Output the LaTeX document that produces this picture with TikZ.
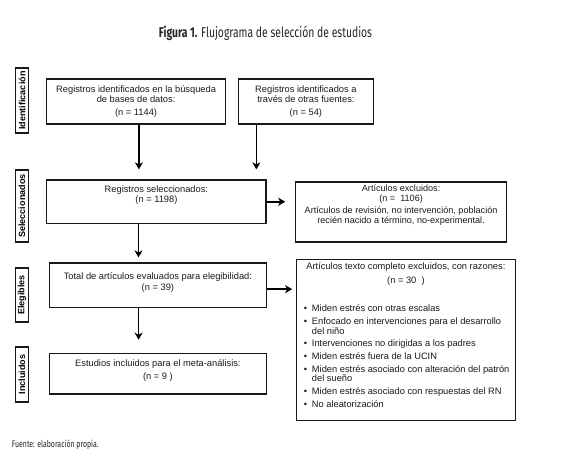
\documentclass[tikz,border=0pt]{standalone}
\usepackage{fontspec}
\setmainfont{Liberation Sans}
\newfontfamily\sidefont{Liberation Sans}
\newfontfamily\titlefont{Fira Sans}[FakeStretch=0.73]
\usetikzlibrary{arrows.meta}
\begin{document}
\begin{tikzpicture}[x=1pt,y=-1pt,
 box/.style={draw=black!90, line width=1.2pt, inner sep=0pt},
 txt/.style={font=\fontsize{9.3}{10.5}\selectfont, align=center, inner sep=0pt, text=black!90},
 smalltxt/.style={font=\fontsize{9.1}{10}\selectfont, align=center, inner sep=0pt, text=black!90},
 listtxt/.style={font=\fontsize{9.3}{9.5}\selectfont, align=left, inner sep=0pt, text=black!90},
 side/.style={draw=black!90, line width=1.3pt, rotate=90, font=\sidefont\fontsize{9}{11}\selectfont\bfseries, inner sep=0pt, minimum height=12.5pt},
 arr/.style={line width=1.7pt, draw=black, -{Stealth[length=7pt,width=8pt,inset=2pt]}}
]
\path[use as bounding box] (0,0) rectangle (578,459);

% title and source
\node[font=\titlefont\fontsize{14.2}{16}\selectfont, text=black!85, inner sep=0pt] (title) at (265.5,33) {{\bfseries Figura 1.} Flujograma de selección de estudios};
\node[font=\titlefont\fontsize{9.5}{10}\selectfont, text=black!85, inner sep=0pt, anchor=west] (src) at (11.8,445) {Fuente: elaboración propia.};

% side labels
\node[side, minimum width=65pt] (l1) at (22,100.5) {Identificación};
\node[side, minimum width=72pt] (l2) at (22,206) {Seleccionados};
\node[side, minimum width=54pt] (l3) at (22,295) {Elegibles};
\node[side, minimum width=55pt] (l4) at (22,374.5) {Incluidos};

% boxes
\node[box, minimum width=178.6pt, minimum height=45pt] (a) at (136.1,101.5) {};
\node[box, minimum width=135.5pt, minimum height=45pt] (b) at (305.9,101.5) {};
\node[box, minimum width=219.1pt, minimum height=43.5pt] (c) at (156.4,201.75) {};
\node[box, minimum width=210.5pt, minimum height=60pt] (e1) at (401.1,212) {};
\node[box, minimum width=216.9pt, minimum height=44.3pt] (d) at (157.9,285.15) {};
\node[box, minimum width=216.9pt, minimum height=40.7pt] (e) at (157.9,373.65) {};
\node[box, minimum width=219.1pt, minimum height=161.4pt] (e2) at (405.9,340) {};

% texts
\node[txt] (ta) at (a.center) {Registros identificados en la búsqueda\\de bases de datos:\\[2pt](n = 1144)};
\node[txt] (tb) at (b.center) {Registros identificados a\\través de otras fuentes:\\[2pt](n = 54)};
\node[txt] (tc) at ([yshift=6.75pt]c.center) {Registros seleccionados:\\(n = 1198)};
\node[smalltxt, anchor=north] (te1) at ([yshift=-3pt]e1.north) {Artículos excluidos:\\(n =\ \ 1106)\\[2.5pt]Artículos de revisión, no intervención, población\\recién nacido a término, no-experimental.};
\node[txt] (td) at ([yshift=2.6pt]d.center) {Total de artículos evaluados para elegibilidad:\\[1pt](n = 39)};
\node[txt] (te) at ([yshift=3pt]e.center) {Estudios incluidos para el meta-análisis:\\[3pt](n = 9 )};
\node[txt, anchor=north] (te2) at ([yshift=-4pt]e2.north) {Artículos texto completo excluidos, con razones:\\[3.5pt](n = 30\ \ )};
\node[listtxt, anchor=north west] (tl) at ([xshift=8pt,yshift=-46pt]e2.north west) {%
\makebox[8pt][l]{\textbullet}Miden estrés con otras escalas\\[3.3pt]
\makebox[8pt][l]{\textbullet}Enfocado en intervenciones para el desarrollo\\
\hspace*{8pt}del niño\\[3.3pt]
\makebox[8pt][l]{\textbullet}Intervenciones no dirigidas a los padres\\[3.3pt]
\makebox[8pt][l]{\textbullet}Miden estrés fuera de la UCIN\\[3.3pt]
\makebox[8pt][l]{\textbullet}Miden estrés asociado con alteración del patrón\\
\hspace*{8pt}del sueño\\[3.3pt]
\makebox[8pt][l]{\textbullet}Miden estrés asociado con respuestas del RN\\[3.3pt]
\makebox[8pt][l]{\textbullet}No aleatorización};

% arrows
\draw[arr, shorten >=10pt] ([xshift=2.8pt]a.south) -- ([xshift=2.8pt]a.south |- c.north);
\draw[arr, shorten >=10pt] ([xshift=18.8pt]b.south west) -- ([xshift=18.8pt]b.south west |- c.north);
\draw[arr, shorten >=10pt] (c.east) -- (c.east -| e1.west);
\draw[arr, shorten >=5pt] ([xshift=-17.9pt]c.south) -- ([xshift=-17.9pt]c.south |- d.north);
\draw[arr, shorten >=3.6pt] ([yshift=-4pt]d.east) -- ([yshift=-4pt]d.east -| e2.west);
\draw[arr, shorten >=13pt] ([xshift=-19.3pt]d.south) -- ([xshift=-19.3pt]d.south |- e.north);
\end{tikzpicture}
\end{document}
